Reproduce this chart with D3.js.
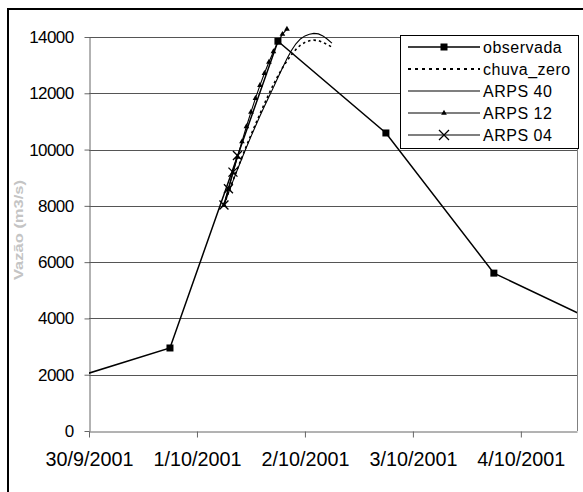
<!DOCTYPE html>
<html>
<head>
<meta charset="utf-8">
<script src="https://cdn.jsdelivr.net/npm/d3@7"></script>
<style>
  html, body { margin: 0; padding: 0; background: #fff; }
  svg { display: block; font-family: "Liberation Sans", Arial, sans-serif; }
</style>
</head>
<body>
<svg id="chart" width="583" height="492"></svg>
<script>
// Observed discharge (daily readings at 18:00)
const obsTimes = ["2001-09-29 18:00", "2001-09-30 18:00", "2001-10-01 18:00",
                  "2001-10-02 18:00", "2001-10-03 18:00", "2001-10-04 18:00"];
const observada = [1760, 2950, 13850, 10590, 5610, 3790];

// Hourly forecasts starting 1/10/2001 06:00
const forecastStart = "2001-10-01 06:00";
const chuvaZero = [8030, 8470, 8900, 9320, 9730, 10130, 10520, 10900, 11270, 11630,
                   11980, 12310, 12620, 12900, 13150, 13370, 13560, 13710, 13810, 13870,
                   13890, 13870, 13810, 13730, 13640];
const arps40 = [8030, 8460, 8880, 9290, 9690, 10080, 10460, 10830, 11190, 11540,
                11880, 12210, 12560, 12900, 13230, 13520, 13760, 13930, 14040, 14100,
                14130, 14110, 14040, 13920, 13780];
const arps12 = [8030, 8600, 9170, 9730, 10280, 10820, 11330, 11820, 12280, 12710,
                13110, 13480, 13820, 14100, 14280];
const arps04 = [8030, 8610, 9200, 9790];

const xTickDates = ["2001-09-30", "2001-10-01", "2001-10-02", "2001-10-03", "2001-10-04"];
const yTicks = [0, 2000, 4000, 6000, 8000, 10000, 12000, 14000];
const seriesNames = ["observada", "chuva_zero", "ARPS 40", "ARPS 12", "ARPS 04"];

const parseTime = d3.utcParse("%Y-%m-%d %H:%M");
const parseDay = d3.utcParse("%Y-%m-%d");
const hour = 3600 * 1000;

const svg = d3.select("#chart");

// chart frame
svg.append("rect")
  .attr("x", 8).attr("y", 9).attr("width", 600).attr("height", 520)
  .attr("fill", "#fff").attr("stroke", "#000").attr("stroke-width", 2);

const plot = { left: 89, right: 577, top: 37, bottom: 431 };
const xStart = parseDay("2001-09-30");
const xEnd = new Date(xStart.getTime() + 4.52 * 24 * hour);

const x = d3.scaleUtc().domain([xStart, xEnd]).range([plot.left, plot.right]);
const y = d3.scaleLinear().domain([0, 14000]).range([plot.bottom, plot.top]);

// horizontal gridlines
svg.append("g")
  .selectAll("line")
  .data(yTicks.filter(v => v > 0))
  .join("line")
  .attr("x1", plot.left).attr("x2", plot.right)
  .attr("y1", d => Math.round(y(d)) + 0.5).attr("y2", d => Math.round(y(d)) + 0.5)
  .attr("stroke", "#555").attr("stroke-width", 1);

// right border of plot area
svg.append("line")
  .attr("x1", plot.right + 0.5).attr("x2", plot.right + 0.5)
  .attr("y1", plot.top).attr("y2", plot.bottom)
  .attr("stroke", "#808080");

// y axis
const yAxis = svg.append("g")
  .attr("transform", `translate(${plot.left + 0.5},0)`)
  .call(d3.axisLeft(y).tickValues(yTicks).tickSize(5).tickSizeOuter(0).tickFormat(d3.format("d")));
yAxis.select(".domain").attr("stroke", "#666");
yAxis.selectAll(".tick line").attr("stroke", "#666");
yAxis.selectAll(".tick text")
  .attr("x", -16)
  .attr("font-size", 17)
  .attr("letter-spacing", -0.6)
  .attr("font-family", "'Liberation Sans', Arial, sans-serif")
  .attr("fill", "#000");

// x axis
const xAxis = svg.append("g")
  .attr("transform", `translate(0,${plot.bottom + 0.5})`)
  .call(d3.axisBottom(x)
    .tickValues(xTickDates.map(parseDay))
    .tickSize(6).tickSizeOuter(0)
    .tickFormat(d3.utcFormat("%-d/%-m/%Y")));
xAxis.select(".domain").attr("stroke", "#666");
xAxis.selectAll(".tick line").attr("stroke", "#666");
xAxis.selectAll(".tick text")
  .attr("y", 20)
  .attr("dy", "0.71em")
  .attr("font-size", 21)
  .attr("font-family", "'Liberation Sans', Arial, sans-serif")
  .attr("textLength", 88)
  .attr("lengthAdjust", "spacingAndGlyphs")
  .attr("fill", "#000");

// y axis title
svg.append("text")
  .attr("transform", "translate(23,230) rotate(-90)")
  .attr("text-anchor", "middle")
  .attr("font-size", 13)
  .attr("font-weight", "bold")
  .attr("fill", "#c4c4c4")
  .attr("textLength", 100)
  .attr("lengthAdjust", "spacingAndGlyphs")
  .text("Vazão (m3/s)");

// clip series to the plot's horizontal extent
svg.append("clipPath").attr("id", "plotClip")
  .append("rect")
  .attr("x", plot.left).attr("y", 0)
  .attr("width", plot.right - plot.left).attr("height", plot.bottom);

const line = d3.line().x(d => x(d.t)).y(d => y(d.v));

const obsData = obsTimes.map((t, i) => ({ t: parseTime(t), v: observada[i] }));
const fStart = parseTime(forecastStart);
const hourly = arr => arr.map((v, i) => ({ t: new Date(fStart.getTime() + i * hour), v }));

const layer = svg.append("g").attr("clip-path", "url(#plotClip)");

const triangle = d3.symbol().type(d3.symbolTriangle).size(14);
const cross = s => `M${-s},${-s}L${s},${s}M${-s},${s}L${s},${-s}`;

// forecasts
layer.append("path").datum(hourly(chuvaZero))
  .attr("d", line).attr("fill", "none").attr("stroke", "#000")
  .attr("stroke-width", 1.6).attr("stroke-dasharray", "2.5,3");
layer.append("path").datum(hourly(arps40))
  .attr("d", line).attr("fill", "none").attr("stroke", "#000").attr("stroke-width", 1.1);
layer.append("path").datum(hourly(arps12))
  .attr("d", line).attr("fill", "none").attr("stroke", "#000").attr("stroke-width", 1.1);
layer.selectAll(".tri").data(hourly(arps12)).join("path")
  .attr("transform", d => `translate(${x(d.t)},${y(d.v)})`)
  .attr("d", triangle).attr("fill", "#000");
layer.append("path").datum(hourly(arps04))
  .attr("d", line).attr("fill", "none").attr("stroke", "#000").attr("stroke-width", 1.4);
layer.selectAll(".x04").data(hourly(arps04)).join("path")
  .attr("transform", d => `translate(${x(d.t)},${y(d.v)})`)
  .attr("d", cross(4.5)).attr("fill", "none").attr("stroke", "#000").attr("stroke-width", 1.3);

// observed
layer.append("path").datum(obsData)
  .attr("d", line).attr("fill", "none").attr("stroke", "#000").attr("stroke-width", 1.5);
layer.selectAll(".sq").data(obsData).join("rect")
  .attr("x", d => x(d.t) - 3.5).attr("y", d => y(d.v) - 3.5)
  .attr("width", 7).attr("height", 7).attr("fill", "#000");

// legend
const legend = svg.append("g");
legend.append("rect")
  .attr("x", 400.5).attr("y", 35.5).attr("width", 178).attr("height", 113)
  .attr("fill", "#fff").attr("stroke", "#000").attr("stroke-width", 1);

const rowY = [47, 69, 91, 113, 135];
const lx1 = 408, lx2 = 480, lm = 444;
seriesNames.forEach((name, i) => {
  const g = legend.append("g");
  const ln = g.append("line")
    .attr("x1", lx1).attr("x2", lx2).attr("y1", rowY[i]).attr("y2", rowY[i])
    .attr("stroke", "#000").attr("stroke-width", i === 0 ? 1.5 : 1.2);
  if (i === 1) ln.attr("stroke-dasharray", "3,4").attr("stroke-width", 2);
  if (i === 0) {
    g.append("rect").attr("x", lm - 3.5).attr("y", rowY[i] - 3.5)
      .attr("width", 7).attr("height", 7).attr("fill", "#000");
  } else if (i === 3) {
    g.append("path").attr("transform", `translate(${lm},${rowY[i]})`)
      .attr("d", triangle).attr("fill", "#000");
  } else if (i === 4) {
    g.append("path").attr("transform", `translate(${lm},${rowY[i]})`)
      .attr("d", cross(5)).attr("fill", "none").attr("stroke", "#000").attr("stroke-width", 1.3);
  }
  g.append("text")
    .attr("x", 483).attr("y", rowY[i])
    .attr("dy", "0.35em")
    .attr("font-size", 16)
    .attr("letter-spacing", 0.5)
    .attr("fill", "#000")
    .text(name);
});
</script>
</body>
</html>
